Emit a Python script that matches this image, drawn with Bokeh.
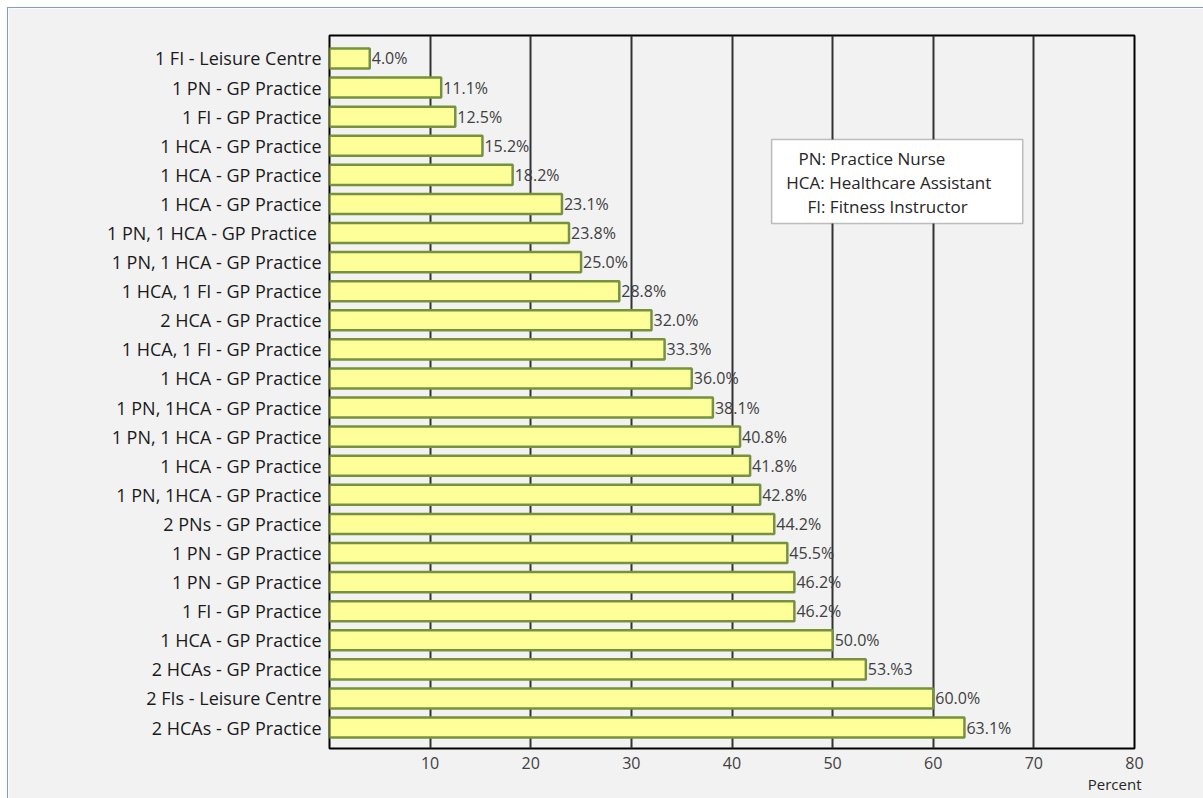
from bokeh.plotting import figure
from bokeh.models import Range1d, FixedTicker, ColumnDataSource, Label, BoxAnnotation, LabelSet, Title
from bokeh.core.properties import value
from bokeh.embed import file_html
from bokeh.resources import INLINE

categories = ["1 FI - Leisure Centre", "1 PN - GP Practice", "1 FI - GP Practice",
              "1 HCA - GP Practice", "1 HCA - GP Practice", "1 HCA - GP Practice",
              "1 PN, 1 HCA  - GP Practice", "1 PN, 1 HCA - GP Practice",
              "1 HCA, 1 FI - GP Practice", "2 HCA - GP Practice",
              "1 HCA, 1 FI - GP Practice", "1 HCA - GP Practice",
              "1 PN, 1HCA - GP Practice", "1 PN, 1 HCA - GP Practice",
              "1 HCA - GP Practice", "1 PN, 1HCA - GP Practice",
              "2 PNs - GP Practice", "1 PN - GP Practice", "1 PN - GP Practice",
              "1 FI - GP Practice", "1 HCA - GP Practice", "2 HCAs - GP Practice",
              "2 FIs - Leisure Centre", "2 HCAs - GP Practice"]
values = [4.0, 11.1, 12.5, 15.2, 18.2, 23.1, 23.8, 25.0, 28.8, 32.0, 33.3, 36.0,
          38.1, 40.8, 41.8, 42.8, 44.2, 45.5, 46.2, 46.2, 50.0, 53.3, 60.0, 63.1]
value_labels = ["4.0%", "11.1%", "12.5%", "15.2%", "18.2%", "23.1%", "23.8%", "25.0%",
                "28.8%", "32.0%", "33.3%", "36.0%", "38.1%", "40.8%", "41.8%", "42.8%",
                "44.2%", "45.5%", "46.2%", "46.2%", "50.0%", "53.%3", "60.0%", "63.1%"]
x_ticks = [10, 20, 30, 40, 50, 60, 70, 80]
legend_lines = ["PN: Practice Nurse", "HCA: Healthcare Assistant", "FI:  Fitness Instructor"]
x_title = "Percent"

FONT = "Open Sans"
n = len(categories)
idx = list(range(n))

src = ColumnDataSource(dict(y=idx, v=values, lab=value_labels, cat=categories))

p = figure(width=1196, height=791, output_backend="svg", toolbar_location=None,
           x_range=Range1d(0, 80), y_range=Range1d(n - 1 + 0.72, -0.79),
           min_border_left=321, min_border_right=70, min_border_top=27, min_border_bottom=51,
           margin=(7, 0, 0, 7))
p.styles = {"border-top": "1px solid #7f9ccb", "border-left": "1px solid #7f9ccb"}
p.background_fill_color = "#f2f2f2"
p.border_fill_color = "#f2f2f2"
p.outline_line_color = "black"
p.outline_line_width = 2

p.hbar(y="y", right="v", left=0, height=0.69, source=src,
       fill_color="#ffff99", line_color="#76923c", line_width=2.5)

p.add_layout(LabelSet(x="v", y="y", text="lab", source=src, x_offset=2,
                      text_baseline="middle", text_font=value(FONT),
                      text_font_size=value("16px"), text_color="#404040"))

p.xaxis.ticker = FixedTicker(ticks=x_ticks)
p.xaxis.major_tick_in = 0
p.xaxis.major_tick_out = 0
p.xaxis.minor_tick_line_color = None
p.xaxis.axis_line_color = None
p.xaxis.major_label_text_font = FONT
p.xaxis.major_label_text_font_size = "16px"
p.xaxis.major_label_text_color = "#404040"
p.xaxis.major_label_standoff = 8

p.yaxis.ticker = FixedTicker(ticks=idx)
p.yaxis.major_label_overrides = {i: c for i, c in enumerate(categories)}
p.yaxis.major_tick_in = 0
p.yaxis.major_tick_out = 0
p.yaxis.minor_tick_line_color = None
p.yaxis.axis_line_color = None
p.yaxis.major_label_text_font = FONT
p.yaxis.major_label_text_font_size = "18px"
p.yaxis.major_label_text_color = "#1a1a1a"
p.yaxis.major_label_standoff = 8

p.xgrid.grid_line_color = "#333333"
p.xgrid.grid_line_width = 2
p.ygrid.grid_line_color = None

box = BoxAnnotation(left=43.94, right=68.89, top=2.785, bottom=5.67,
                    fill_color="white", fill_alpha=1.0, line_color="#333333", line_width=1.5)
p.add_layout(box)
legend_x = [46.6, 45.4, 47.5]
legend_y = [3.44, 4.27, 5.09]
for t, lx, ly in zip(legend_lines, legend_x, legend_y):
    p.add_layout(Label(x=lx, y=ly, text=t, text_font=FONT, text_font_size="17px",
                       text_baseline="middle", text_color="#262626"))

p.add_layout(Title(text=x_title, align="right", offset=-7, standoff=0,
                   text_font=FONT, text_font_size="15px", text_font_style="normal",
                   text_color="#262626"), "below")

open("out.html", "w").write(file_html(p, INLINE))
